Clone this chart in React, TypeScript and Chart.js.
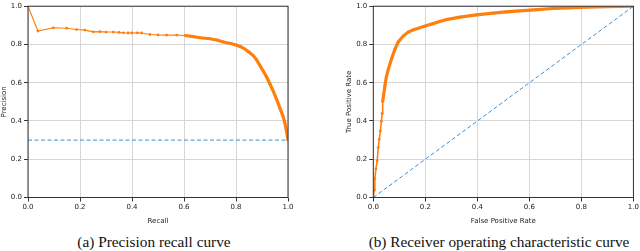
import React, { useEffect, useRef } from "react";
import { Chart, registerables } from "chart.js";

Chart.register(...registerables);

const prRecall = [0, 0.038, 0.097, 0.149, 0.187, 0.219, 0.251, 0.277, 0.3, 0.328, 0.35, 0.367, 0.385, 0.399, 0.42, 0.437, 0.469, 0.5, 0.533, 0.572, 0.604, 0.63, 0.662, 0.7, 0.73, 0.751, 0.78, 0.803, 0.82, 0.835, 0.85, 0.867, 0.88, 0.892, 0.905, 0.918, 0.931, 0.944, 0.957, 0.969, 0.98, 0.988, 0.995, 1.0];
const prPrecision = [1.0, 0.87, 0.887, 0.885, 0.878, 0.875, 0.866, 0.867, 0.865, 0.865, 0.863, 0.861, 0.86, 0.86, 0.861, 0.86, 0.852, 0.85, 0.849, 0.849, 0.847, 0.842, 0.835, 0.83, 0.822, 0.813, 0.805, 0.796, 0.787, 0.775, 0.76, 0.741, 0.718, 0.69, 0.66, 0.63, 0.592, 0.553, 0.51, 0.467, 0.428, 0.39, 0.34, 0.3];
const prBaselineX = [0, 1];
const prBaselineY = [0.3, 0.3];

const rocFpr = [0, 0.004, 0.006, 0.01, 0.015, 0.019, 0.023, 0.027, 0.031, 0.034, 0.036, 0.045, 0.05, 0.058, 0.07, 0.083, 0.096, 0.115, 0.134, 0.155, 0.179, 0.205, 0.23, 0.255, 0.281, 0.333, 0.397, 0.46, 0.51, 0.563, 0.63, 0.69, 0.75, 0.818, 0.9, 1.0];
const rocTpr = [0, 0.038, 0.099, 0.15, 0.193, 0.261, 0.304, 0.347, 0.398, 0.44, 0.501, 0.587, 0.63, 0.672, 0.724, 0.775, 0.813, 0.844, 0.865, 0.877, 0.887, 0.899, 0.909, 0.92, 0.93, 0.943, 0.955, 0.964, 0.97, 0.976, 0.982, 0.988, 0.991, 0.995, 0.998, 1.0];
const rocChanceX = [0, 1];
const rocChanceY = [0, 1];

const axisTicks = [0, 0.2, 0.4, 0.6, 0.8, 1.0];

const ORANGE = "#ff7f0e";
const BLUE = "#3b8fd4";
const TICK_FONT = { family: "DejaVu Sans", size: 7 };

const pts = (xs: number[], ys: number[]) => xs.map((x, i) => ({ x, y: ys[i] }));

const frame = {
  id: "frame",
  afterDraw(chart: any) {
    const { ctx, chartArea: a } = chart;
    ctx.save();
    ctx.strokeStyle = "#333";
    ctx.lineWidth = 1;
    ctx.strokeRect(a.left, a.top, a.right - a.left, a.bottom - a.top);
    ctx.restore();
  },
};

function makeOptions(xTitle: string, yTitle: string, yAxisWidth: number, padLeft: number, padRight: number) {
  const common = {
    type: "linear" as const,
    min: 0,
    max: 1,
    grid: { color: "#d6d6d6", lineWidth: 1, tickColor: "#333", tickLength: 4, drawTicks: true },
    border: { display: false },
    afterBuildTicks: (axis: any) => {
      axis.ticks = axisTicks.map((v) => ({ value: v }));
    },
  };
  return {
    animation: false as const,
    responsive: false,
    maintainAspectRatio: false,
    layout: { padding: { top: 3, left: padLeft, right: padRight, bottom: 0 } },
    plugins: { legend: { display: false }, tooltip: { enabled: false } },
    scales: {
      x: {
        ...common,
        ticks: { font: TICK_FONT, color: "#222", padding: 1, maxRotation: 0, callback: (v: any) => Number(v).toFixed(1) },
        title: { display: true, text: xTitle, font: TICK_FONT, color: "#222", padding: { top: 1, bottom: 0 } },
        afterFit: (axis: any) => {
          axis.height = 27.5;
        },
      },
      y: {
        ...common,
        ticks: { font: TICK_FONT, color: "#222", padding: 2, callback: (v: any) => Number(v).toFixed(1) },
        title: { display: true, text: yTitle, font: TICK_FONT, color: "#222", padding: { top: 0, bottom: 0 } },
        afterFit: (axis: any) => {
          axis.width = yAxisWidth;
        },
      },
    },
  };
}

function PRChart() {
  const ref = useRef<HTMLCanvasElement>(null);
  useEffect(() => {
    const chart = new Chart(ref.current!, {
      type: "scatter",
      data: {
        datasets: [
          {
            data: pts(prBaselineX, prBaselineY),
            showLine: true,
            borderColor: BLUE,
            borderWidth: 1,
            borderDash: [4, 2.5],
            pointRadius: 0,
          },
          {
            data: pts(prRecall, prPrecision),
            showLine: true,
            borderColor: ORANGE,
            backgroundColor: ORANGE,
            pointRadius: 1.4,
            pointBorderWidth: 0,
            segment: { borderWidth: (c: any) => (c.p0.parsed.x >= 0.6 ? 3.2 : 1.1) },
          },
        ],
      },
      options: makeOptions("Recall", "Precision", 28, 0, 12) as any,
      plugins: [frame],
    });
    return () => chart.destroy();
  }, []);
  return <canvas ref={ref} width={300} height={225} style={{ position: "absolute", left: 0, top: 0, width: 300, height: 225 }} />;
}

function ROCChart() {
  const ref = useRef<HTMLCanvasElement>(null);
  useEffect(() => {
    const chart = new Chart(ref.current!, {
      type: "scatter",
      data: {
        datasets: [
          {
            data: pts(rocChanceX, rocChanceY),
            showLine: true,
            borderColor: BLUE,
            borderWidth: 1,
            borderDash: [4, 2.5],
            pointRadius: 0,
          },
          {
            data: pts(rocFpr, rocTpr),
            showLine: true,
            borderColor: ORANGE,
            backgroundColor: ORANGE,
            pointRadius: 1.4,
            pointBorderWidth: 0,
            segment: { borderWidth: (c: any) => (c.p1.parsed.y >= 0.55 ? 3.2 : 1.6) },
          },
        ],
      },
      options: makeOptions("False Positive Rate", "True Positive Rate", 28.3, 25, 6) as any,
      plugins: [frame],
    });
    return () => chart.destroy();
  }, []);
  return <canvas ref={ref} width={320} height={225} style={{ position: "absolute", left: 320, top: 0, width: 320, height: 225 }} />;
}

const captionStyle: React.CSSProperties = {
  position: "absolute",
  top: 233,
  fontFamily: "'Liberation Serif', Tinos, 'DejaVu Serif', serif",
  fontSize: 15.3,
  color: "#111",
  whiteSpace: "nowrap",
  transform: "translateX(-50%)",
  lineHeight: "18px",
};

export default function App() {
  return (
    <div style={{ position: "fixed", left: 0, top: 0, width: 640, height: 251, background: "#fff", overflow: "hidden" }}>
      <PRChart />
      <ROCChart />
      <div style={{ ...captionStyle, left: 154 }}>(a) Precision recall curve</div>
      <div style={{ ...captionStyle, left: 499 }}>(b) Receiver operating characteristic curve</div>
    </div>
  );
}
